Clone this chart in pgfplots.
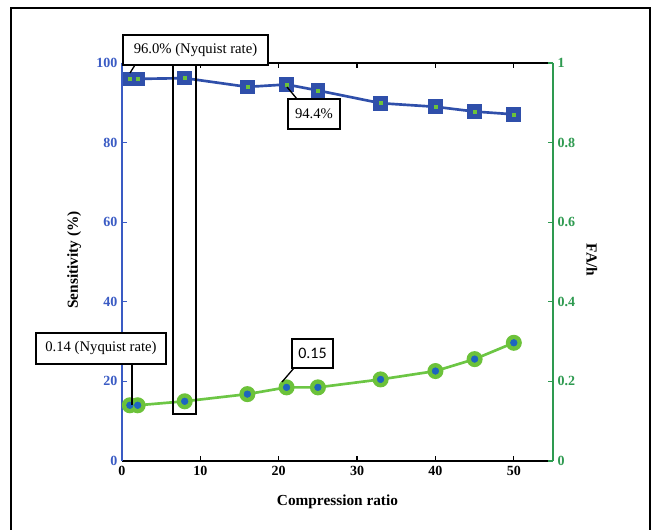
\documentclass[border=0pt]{standalone}
\usepackage{pgfplots}
\pgfplotsset{compat=1.18}
\usepackage{fontspec}
\setmainfont{Liberation Serif}
\newfontfamily\carlito{Carlito}
\definecolor{senblue}{HTML}{2F4FAA}
\definecolor{axblue}{HTML}{3A5BC4}
\definecolor{fagreen}{HTML}{6CC644}
\definecolor{axgreen}{HTML}{2E9A50}
\definecolor{dotblue}{HTML}{1E64C0}
\definecolor{dotgreen}{HTML}{6CC23A}
\pgfplotstableread{
x sens
1 96.0
2 96.0
8 96.2
16 94.0
21 94.6
25 93.1
33 89.9
40 89.0
45 87.8
50 87.1
}\senstable
\pgfplotstableread{
x fa
1 0.140
2 0.140
8 0.150
16 0.168
21 0.185
25 0.185
33 0.205
40 0.226
45 0.256
50 0.297
}\fatable
\begin{document}
\begin{tikzpicture}
\begin{scope}[shift={(-91.5pt,345.75pt)}, x=0.75pt, y=-0.75pt]
\useasboundingbox (0,0) rectangle (654,524);
\end{scope}
\pgfplotsset{
  base/.style={scale only axis, width=323.25pt, height=298.5pt, xmin=0, xmax=55, tick align=inside,
   /pgf/number format/assume math mode=true,
   ticklabel style={font=\bfseries\fontsize{10.5}{12}\selectfont},
   major tick length=4pt,
  }
}
\begin{axis}[base, axis x line=box, axis y line*=left, ymin=0, ymax=100,
  xtick={0,10,...,50}, ytick={0,20,...,100},
  x axis line style={black, line width=1.1pt},
  y axis line style={axblue, line width=0.9pt},
  ytick style={axblue, line width=0.9pt}, xtick style={black, line width=0.9pt},
  yticklabel style={text=axblue},
  xlabel={Compression ratio}, ylabel={Sensitivity (\%)},
  xlabel style={at={(axis description cs:0.5,-0.103)}, anchor=center, font=\bfseries\fontsize{11.5}{13}\selectfont},
  ylabel style={at={(axis description cs:-0.111,0.505)}, anchor=center, font=\bfseries\fontsize{11.5}{13}\selectfont}]
\addplot[senblue, line width=2pt, mark=square*, mark size=4.5pt, mark options={fill=senblue, draw=senblue}] table[x=x, y=sens] {\senstable};
\addplot[only marks, mark=square*, mark size=1.1pt, mark options={fill=dotgreen, draw=dotgreen}] table[x=x, y=sens] {\senstable};
\end{axis}
\begin{axis}[base, axis x line=none, axis y line*=right, ymin=0, ymax=1,
  ytick={0,0.2,...,1},
  y axis line style={axgreen, line width=0.9pt},
  ytick style={axgreen, line width=0.9pt},
  yticklabel style={text=axgreen},
  ylabel={FA/h},
  ylabel style={at={(axis description cs:1.09,0.505)}, anchor=center, rotate=180, font=\bfseries\fontsize{11.5}{13}\selectfont}]
\addplot[fagreen, line width=2pt, mark=*, mark size=5pt, mark options={fill=dotgreen, draw=dotgreen}] table[x=x, y=fa] {\fatable};
\addplot[only marks, mark=*, mark size=2.5pt, mark options={fill=dotblue, draw=dotblue}] table[x=x, y=fa] {\fatable};
\end{axis}
\begin{scope}[shift={(-91.5pt,345.75pt)}, x=0.75pt, y=-0.75pt]
\draw[line width=1.5pt] (11,530) -- (11,8) -- (650,8) -- (650,530);
\draw[line width=1pt] (173,65) rectangle (196,414);
\draw[line width=1pt] (130,73) -- (135,65);
\draw[line width=1pt] (287,87) -- (297,99);
\draw[line width=1pt] (132,364) -- (132,405);
\draw[line width=1pt] (282,382) -- (294,368);
\tikzset{ann/.style={draw, line width=1pt, fill=white, inner sep=0pt, font=\fontsize{11}{13}\selectfont}}
\node[ann, minimum width=108.75pt, minimum height=22.5pt] at (195.5,50) {96.0\% (Nyquist rate)};
\node[ann, minimum width=39pt, minimum height=22.5pt] at (314,114) {94.4\%};
\node[ann, minimum width=97.5pt, minimum height=23.25pt] at (101,348.5) {0.14 (Nyquist rate)};
\node[ann, minimum width=30.75pt, minimum height=21.75pt, font=\carlito\fontsize{12}{14}\selectfont] at (312.5,353.5) {0.15};
\end{scope}
\end{tikzpicture}
\end{document}
